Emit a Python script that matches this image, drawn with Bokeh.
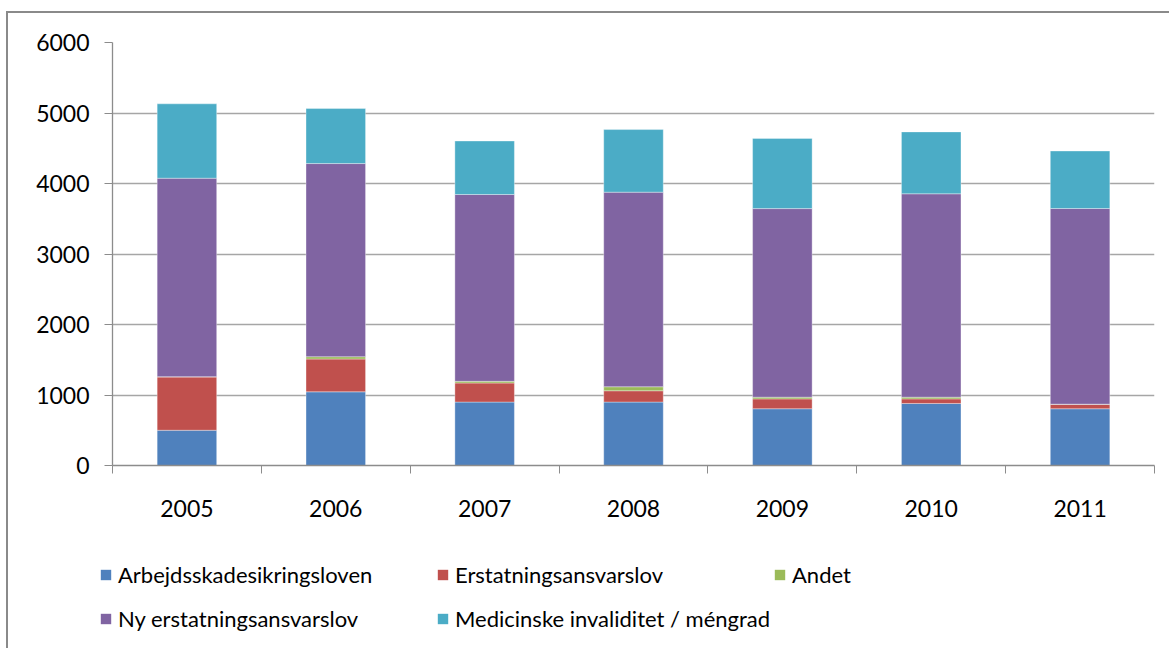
from bokeh.plotting import figure
from bokeh.layouts import column
from bokeh.models import (ColumnDataSource, FixedTicker, Legend, LegendItem, Range1d)
from bokeh.embed import file_html
from bokeh.resources import INLINE

# ---- data ----
years = ["2005", "2006", "2007", "2008", "2009", "2010", "2011"]
arbejdsskade = [500, 1045, 900, 900, 805, 880, 805]
erstatning = [755, 465, 270, 160, 140, 65, 62]
andet = [5, 33, 24, 57, 24, 24, 3]
ny_erstatning = [2815, 2740, 2650, 2760, 2675, 2885, 2775]
medicinske = [1055, 780, 759, 888, 996, 878, 816]
series_labels = ["Arbejdsskadesikringsloven", "Erstatningsansvarslov", "Andet",
                 "Ny erstatningsansvarslov", "Medicinske invaliditet / méngrad"]
y_ticks = [0, 1000, 2000, 3000, 4000, 5000, 6000]

colors = ["#4F81BD", "#C0504D", "#9BBB59", "#8064A2", "#4BACC6"]
FONT = "Lato"
GRID = "#a6a6a6"
AXIS = "#8c8c8c"

xs = list(range(len(years)))
keys = ["a", "e", "an", "ny", "m"]
src = ColumnDataSource(dict(x=xs, a=arbejdsskade, e=erstatning, an=andet,
                            ny=ny_erstatning, m=medicinske))

# ---- main chart ----
p = figure(width=1161, height=532, output_backend="svg", toolbar_location=None,
           x_range=Range1d(-0.5, len(years) - 0.5), y_range=Range1d(0, 6000),
           min_border_left=104, min_border_right=15, min_border_top=29,
           min_border_bottom=80)
p.frame_align = False
p.outline_line_color = None
p.background_fill_color = "white"
p.border_fill_color = "white"

rs = p.vbar_stack(keys, x="x", width=0.4, source=src, fill_color=colors,
                  line_color="white", line_alpha=0.35, line_width=1)

# x axis: labels at centres, ticks at category boundaries
xa = p.xaxis[0]
xa.ticker = FixedTicker(ticks=xs, minor_ticks=[i - 0.5 for i in range(len(years) + 1)])
xa.major_label_overrides = {i: y for i, y in zip(xs, years)}
xa.major_tick_out = 0
xa.major_tick_in = 0
xa.minor_tick_out = 8
xa.minor_tick_in = 0
xa.minor_tick_line_color = AXIS
xa.axis_line_color = AXIS
xa.axis_line_width = 1.3
xa.major_label_text_font = FONT
xa.major_label_text_font_size = "23px"
xa.major_label_text_color = "#000000"
xa.major_label_standoff = 26

ya = p.yaxis[0]
ya.ticker = FixedTicker(ticks=y_ticks)
ya.major_tick_out = 8
ya.major_tick_in = 0
ya.minor_tick_line_color = None
ya.major_tick_line_color = AXIS
ya.axis_line_color = AXIS
ya.axis_line_width = 1.3
ya.major_label_text_font = FONT
ya.major_label_text_font_size = "23px"
ya.major_label_text_color = "#000000"
ya.major_label_standoff = 15

p.xgrid.grid_line_color = None
p.ygrid.grid_line_color = GRID
p.ygrid.grid_line_width = 1.3

# ---- legend strip ----
lg = figure(width=1161, height=103, output_backend="svg", toolbar_location=None,
            x_range=Range1d(0, 1), y_range=Range1d(0, 1),
            x_axis_location=None, y_axis_location=None,
            min_border_left=0, min_border_right=0, min_border_top=0,
            min_border_bottom=0)
lg.frame_align = False
lg.outline_line_color = None
lg.xgrid.grid_line_color = None
lg.ygrid.grid_line_color = None
# legend swatch renderers (zero-height, outside the visible range)
swatches = [lg.vbar(x=[-1], top=[0], bottom=[0], width=0.1, fill_color=c, line_color=None)
            for c in colors]


def make_legend(idx, loc):
    leg = Legend(items=[LegendItem(label=series_labels[i], renderers=[swatches[i]]) for i in idx],
                 orientation="horizontal", location=loc, padding=0, margin=0,
                 spacing=18, glyph_width=13, glyph_height=13, label_standoff=6,
                 label_width=300, label_height=26,
                 label_text_font=FONT, label_text_font_size="22px",
                 label_text_color="#000000", border_line_color=None,
                 background_fill_alpha=0)
    lg.add_layout(leg)


make_legend([0, 1, 2], (91, 60))
make_legend([3, 4], (91, 16))

layout = column(p, lg, spacing=0,
                styles={"border-left": "2px solid #8a8a8a", "border-top": "2px solid #8a8a8a",
                        "margin-left": "6px", "margin-top": "11px"})

open("out.html", "w").write(file_html(layout, INLINE))
